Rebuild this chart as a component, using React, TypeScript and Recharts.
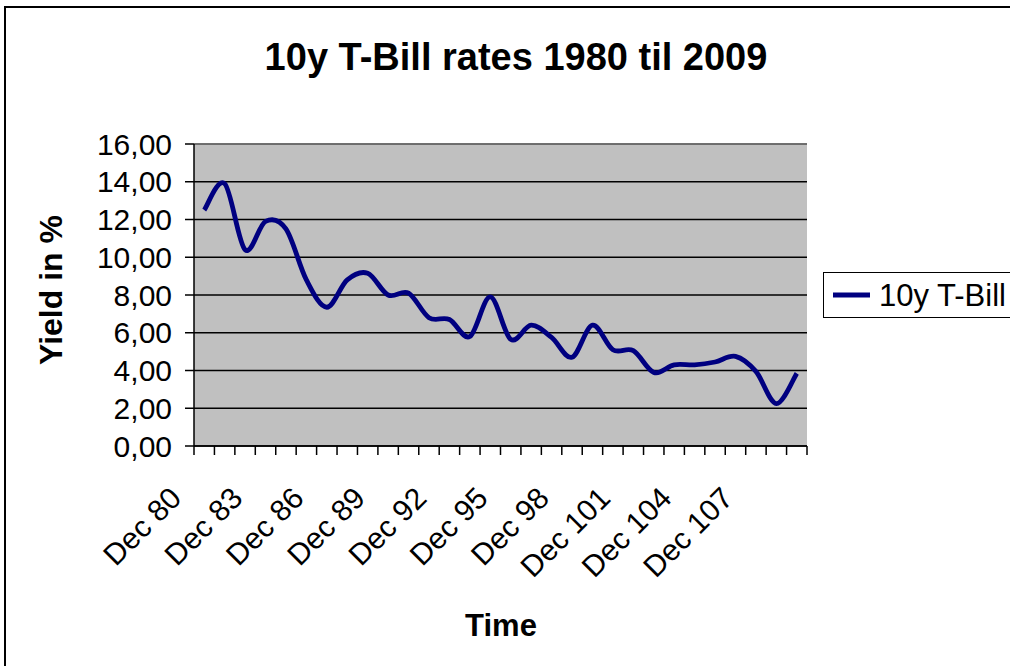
import React from 'react';
import { LineChart, Line, XAxis, YAxis, CartesianGrid, ReferenceLine } from 'recharts';

const categories = [
  'Dec 80', 'Dec 81', 'Dec 82', 'Dec 83', 'Dec 84', 'Dec 85', 'Dec 86', 'Dec 87', 'Dec 88', 'Dec 89',
  'Dec 90', 'Dec 91', 'Dec 92', 'Dec 93', 'Dec 94', 'Dec 95', 'Dec 96', 'Dec 97', 'Dec 98', 'Dec 99',
  'Dec 100', 'Dec 101', 'Dec 102', 'Dec 103', 'Dec 104', 'Dec 105', 'Dec 106', 'Dec 107', 'Dec 108', 'Dec 109',
];

const yields = [
  12.5, 13.9, 10.4, 11.9, 11.5, 8.8, 7.35, 8.8, 9.15, 8.0,
  8.1, 6.8, 6.7, 5.8, 7.9, 5.65, 6.4, 5.75, 4.7, 6.4,
  5.1, 5.05, 3.9, 4.3, 4.3, 4.45, 4.75, 3.95, 2.25, 3.85,
];

const yTicks = [0, 2, 4, 6, 8, 10, 12, 14, 16];
const labelStep = 3;

const FONT = '"Liberation Sans", Arial, sans-serif';

// points sit in the middle of each category, tick marks on the boundaries
const data = categories.map((name, i) => ({ pos: i + 0.5, name, tbill: yields[i] }));
const xTicks = [...categories.map((_, i) => i), categories.length];

// Excel style smoothed line (uniform Catmull-Rom as bezier)
const excelSmooth = (context: any) => {
  let pts: number[][] = [];
  return {
    areaStart() {},
    areaEnd() {},
    lineStart() {
      pts = [];
    },
    lineEnd() {
      if (!pts.length) return;
      context.moveTo(pts[0][0], pts[0][1]);
      for (let i = 0; i < pts.length - 1; i++) {
        const p0 = pts[Math.max(i - 1, 0)];
        const p1 = pts[i];
        const p2 = pts[i + 1];
        const p3 = pts[Math.min(i + 2, pts.length - 1)];
        context.bezierCurveTo(
          p1[0] + (p2[0] - p0[0]) / 6,
          p1[1] + (p2[1] - p0[1]) / 6,
          p2[0] - (p3[0] - p1[0]) / 6,
          p2[1] - (p3[1] - p1[1]) / 6,
          p2[0],
          p2[1],
        );
      }
    },
    point(x: number, y: number) {
      pts.push([+x, +y]);
    },
  };
};

const XTick = (props: any) => {
  const { x, y, payload } = props;
  const i = payload.value;
  if (i % labelStep !== 0 || i >= categories.length) return null;
  const ex = x - 11;
  const ey = y + 45;
  return (
    <text
      x={ex}
      y={ey}
      textAnchor="end"
      transform={`rotate(-45, ${ex}, ${ey})`}
      fontSize={30}
      fontFamily={FONT}
      fill="#000"
    >
      {categories[i]}
    </text>
  );
};

export default function App() {
  return (
    <div
      style={{
        position: 'absolute',
        left: 0,
        top: 0,
        width: 1010,
        height: 666,
        overflow: 'hidden',
        background: '#fff',
      }}
    >
      <div
        style={{
          position: 'absolute',
          left: 4,
          top: 6,
          width: 1030,
          height: 680,
          border: '2px solid #000',
        }}
      />
      <LineChart
        width={1010}
        height={666}
        data={data}
        margin={{ top: 144, right: 203, bottom: 160, left: 0 }}
        style={{ position: 'absolute', left: 0, top: 0 }}
      >
        <CartesianGrid vertical={false} fill="#c0c0c0" stroke="#000" strokeWidth={1.3} />
        <ReferenceLine y={16} stroke="#808080" strokeWidth={1.5} />
        <XAxis
          dataKey="pos"
          type="number"
          domain={[0, categories.length]}
          ticks={xTicks}
          interval={0}
          height={60}
          tickSize={9}
          tickMargin={0}
          axisLine={{ stroke: '#000', strokeWidth: 1.5 }}
          tickLine={{ stroke: '#000', strokeWidth: 1.5 }}
          tick={<XTick />}
        />
        <YAxis
          domain={[0, 16]}
          ticks={yTicks}
          interval={0}
          width={194}
          tickSize={9}
          tickMargin={13}
          axisLine={{ stroke: '#000', strokeWidth: 1.5 }}
          tickLine={{ stroke: '#000', strokeWidth: 1.5 }}
          tick={{ fill: '#000', fontSize: 30, fontFamily: FONT }}
          tickFormatter={(v: number) => v.toFixed(2).replace('.', ',')}
        />
        <YAxis
          yAxisId="edge"
          orientation="right"
          width={0}
          tick={false}
          tickLine={false}
          axisLine={{ stroke: '#808080', strokeWidth: 1.5 }}
        />
        <Line
          dataKey="tbill"
          name="10y T-Bill"
          type={excelSmooth as any}
          stroke="#000080"
          strokeWidth={4.8}
          dot={false}
          isAnimationActive={false}
        />
      </LineChart>
      <svg
        width={1010}
        height={666}
        style={{ position: 'absolute', left: 0, top: 0, pointerEvents: 'none' }}
        fontFamily={FONT}
      >
        <text x={516} y={70} textAnchor="middle" fontSize={38} fontWeight="bold" fill="#000">
          10y T-Bill rates 1980 til 2009
        </text>
        <text
          x={62}
          y={290}
          textAnchor="middle"
          fontSize={32}
          fontWeight="bold"
          fill="#000"
          transform="rotate(-90, 62, 290)"
        >
          Yield in %
        </text>
        <text x={501} y={636} textAnchor="middle" fontSize={31} fontWeight="bold" fill="#000">
          Time
        </text>
        <rect x={823.5} y={272.5} width={200} height={45} fill="#fff" stroke="#000" strokeWidth={1} />
        <line x1={833} x2={870} y1={295} y2={295} stroke="#000080" strokeWidth={4.8} />
        <text x={879} y={306} fontSize={31} fill="#000">
          10y T-Bill
        </text>
      </svg>
    </div>
  );
}
